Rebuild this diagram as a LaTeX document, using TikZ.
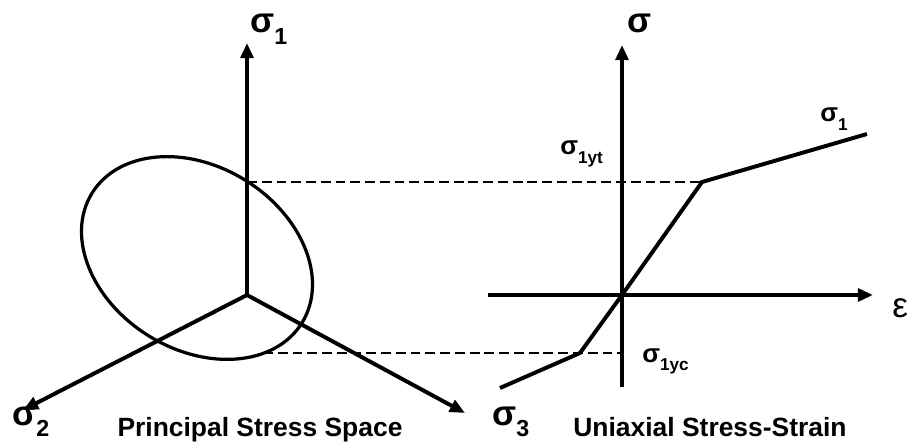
\documentclass[tikz,border=0pt]{standalone}
\usepackage{fontspec}
\setmainfont{Liberation Sans}
\usetikzlibrary{arrows.meta}
\newcommand{\sgm}[1]{σ\raisebox{-0.32em}{\scalebox{0.66}{#1}}}

\begin{document}
\begin{tikzpicture}[>={Triangle[length=0.38cm,width=0.32cm]},
			axis/.style={->,line width=2.8pt},
			curve/.style={line width=2.8pt},
			rim/.style={line width=2.3pt},
			guide/.style={line width=1.3pt,dash pattern=on 7pt off 3.5pt},
			every node/.style={inner sep=0pt,anchor=base west},
			biglbl/.style={font=\bfseries\fontsize{25}{30}\selectfont},
			smalllbl/.style={font=\bfseries\fontsize{18.5}{22}\selectfont},
			ttl/.style={anchor=base,font=\bfseries\fontsize{18.8}{22}\selectfont}]
			
			\useasboundingbox (0,0) rectangle (22.85,11.075);
			
			% principal stress space
			\coordinate (o1) at (6.175,3.70);
			\coordinate (s1tip) at (6.175,10.0);
			\coordinate (s2tip) at (0.575,0.825);
			\coordinate (s3tip) at (11.625,0.75);
			\coordinate (ctr) at (4.925,4.625);
			\coordinate (ytop) at (6.175,6.525);
			\coordinate (ybot) at (6.575,2.25);
			
			% uniaxial stress-strain
			\coordinate (o2) at (15.55,3.70);
			\coordinate (vbot) at (15.55,1.4);
			\coordinate (vtip) at (15.55,9.95);
			\coordinate (hleft) at (12.2,3.70);
			\coordinate (htip) at (21.825,3.70);
			\coordinate (cstart) at (12.5,1.375);
			\coordinate (kneec) at (14.5,2.25);
			\coordinate (kneet) at (17.55,6.525);
			\coordinate (cend) at (21.675,7.725);
			\coordinate (ycend) at (15.5,2.25);
			
			\draw[guide] (ytop) -- (kneet);
			\draw[guide] (ybot) -- (ycend);
			
			\draw[rim,rotate around={-31.7:(ctr)}] (ctr) ellipse [x radius=3.085,y radius=2.29];
			
			\draw[axis] (o1) -- (s1tip);
			\draw[axis] (o1) -- (s2tip);
			\draw[axis] (o1) -- (s3tip);
			
			\draw[axis] (vbot) -- (vtip);
			\draw[axis] (hleft) -- (htip);
			
			\draw[curve] (cstart) -- (kneec) -- (o2) -- (kneet) -- (cend);
			
			\node (s1lbl)[biglbl] at (6.25,10.25) {\sgm{1}};
			\node (s2lbl)[biglbl] at (0.3,0.45) {\sgm{2}};
			\node (s3lbl)[biglbl] at (12.3,0.45) {\sgm{3}};
			\node (siglbl)[biglbl] at (15.675,10.25) {σ};
			\node (epslbl)[font=\fontsize{25}{30}\selectfont] at (22.3,3.15) {ε};
			\node (s1rlbl)[smalllbl] at (20.5,8.025) {\sgm{1}};
			\node (ytlbl)[smalllbl] at (14.0,7.2) {\sgm{1yt}};
			\node (yclbl)[smalllbl] at (16.05,2.025) {\sgm{1yc}};
			
			\node (pss)[ttl] at (6.5,0.17) {Principal Stress Space};
			\node (uss)[ttl] at (17.75,0.17) {Uniaxial Stress-Strain};
			
		\end{tikzpicture}
\end{document}
